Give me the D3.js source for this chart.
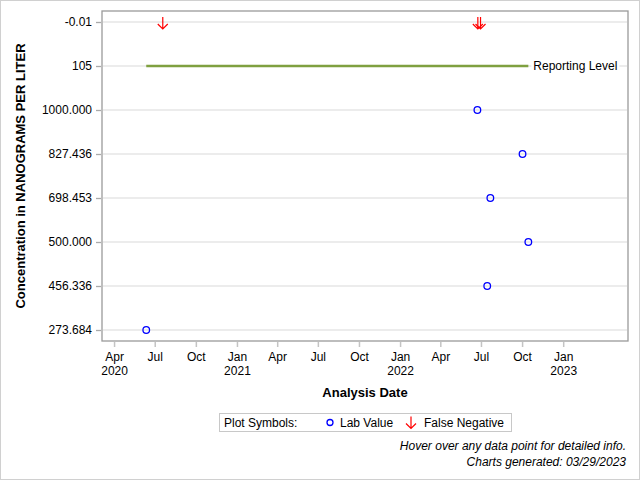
<!DOCTYPE html>
<html>
<head>
<meta charset="utf-8">
<script src="https://cdn.jsdelivr.net/npm/d3@7"></script>
<style>
html,body{margin:0;padding:0;background:#fff;}
svg{display:block;font-family:"Liberation Sans",Arial,sans-serif;}
</style>
</head>
<body>
<svg id="chart" width="640" height="480"></svg>
<script>
// ---- data ----
const yCategories = ["-0.01","105","1000.000","827.436","698.453","500.000","456.336","273.684"];
const labDates  = ["2020-06-12","2022-06-23","2022-10-02","2022-07-22","2022-10-15","2022-07-15"];
const labValues = ["273.684","1000.000","827.436","698.453","500.000","456.336"];
const fnDates  = ["2020-07-19","2022-06-24","2022-06-30"];
const fnValues = ["-0.01","-0.01","-0.01"];
const reportingLevel = "105";
const reportingLabel = "Reporting Level";
const xDomain = ["2020-03-05","2023-05-26"];
const xTickDates = ["2020-04-01","2020-07-01","2020-10-01","2021-01-01","2021-04-01","2021-07-01","2021-10-01","2022-01-01","2022-04-01","2022-07-01","2022-10-01","2023-01-01"];

const parse = d3.utcParse("%Y-%m-%d");
const svg = d3.select("#chart");

// outer border
svg.append("rect").attr("x",0.5).attr("y",0.5).attr("width",639).attr("height",479)
  .attr("fill","#fff").attr("stroke","#d0d0d0");

const L = 102, R = 628, T = 11, B = 341;

const x = d3.scaleUtc().domain(xDomain.map(parse)).range([L, R]);
const y = d3.scalePoint().domain(yCategories).range([T, B]).padding(0.25);

// gridlines
svg.append("g").selectAll("line").data(yCategories).join("line")
  .attr("x1", L+1).attr("x2", R-1)
  .attr("y1", d => y(d)).attr("y2", d => y(d))
  .attr("stroke", "#e6e6e6").attr("stroke-width", 1.3);

// reporting level line
const allDates = labDates.concat(fnDates).map(parse);
const ext = d3.extent(allDates);
svg.append("line")
  .attr("x1", x(ext[0])).attr("x2", x(ext[1]))
  .attr("y1", y(reportingLevel)).attr("y2", y(reportingLevel))
  .attr("stroke", "#7fa040").attr("stroke-width", 2.5);
const rlBg = svg.append("rect").attr("fill", "#fff");
const rlText = svg.append("text").attr("x", x(ext[1]) + 5).attr("y", y(reportingLevel) + 4)
  .attr("font-size", 12).attr("fill", "#000").text(reportingLabel);
const bb = rlText.node().getBBox();
rlBg.attr("x", bb.x - 2).attr("y", bb.y).attr("width", bb.width + 4).attr("height", bb.height);

// frame
svg.append("rect").attr("x", L).attr("y", T).attr("width", R-L).attr("height", B-T)
  .attr("fill", "none").attr("stroke", "#9a9a9a").attr("stroke-width", 1.3);

// y axis
const yAxis = d3.axisLeft(y).tickSize(5).tickPadding(4);
const gy = svg.append("g").attr("transform", `translate(${L-1},0)`).call(yAxis);
gy.select(".domain").remove();
gy.selectAll(".tick line").attr("stroke", "#aaaaaa").attr("stroke-width", 1.3);
gy.selectAll(".tick text").attr("font-size", 12).attr("fill", "#000")
  .attr("font-family", "Liberation Sans, Arial, sans-serif");

// x axis
const fmtMon = d3.utcFormat("%b");
const fmtYr = d3.utcFormat("%Y");
const xt = xTickDates.map(parse);
const xAxis = d3.axisBottom(x).tickValues(xt).tickSize(5).tickFormat("");
const gx = svg.append("g").attr("transform", `translate(0,${B+1})`).call(xAxis);
gx.select(".domain").remove();
gx.selectAll(".tick line").attr("stroke", "#c4c4c4").attr("stroke-width", 1.5);
gx.selectAll(".tick").each(function(d, i) {
  const g = d3.select(this);
  g.append("text").attr("y", 19).attr("text-anchor", "middle")
    .attr("font-size", 12).attr("fill", "#000").text(fmtMon(d));
  if (i === 0 || d.getUTCMonth() === 0) {
    g.append("text").attr("y", 33).attr("text-anchor", "middle")
      .attr("font-size", 12).attr("fill", "#000").text(fmtYr(d));
  }
});

// axis titles
svg.append("text").attr("x", (L+R)/2).attr("y", 397).attr("text-anchor", "middle")
  .attr("font-size", 13).attr("font-weight", "bold").text("Analysis Date");
svg.append("text").attr("transform", `translate(25,${(T+B)/2}) rotate(-90)`)
  .attr("text-anchor", "middle").attr("font-size", 13).attr("font-weight", "bold")
  .text("Concentration in NANOGRAMS PER LITER");

// lab value points
svg.append("g").selectAll("circle").data(labDates.map((d,i)=>({d:parse(d), v:labValues[i]}))).join("circle")
  .attr("cx", p => x(p.d)).attr("cy", p => y(p.v)).attr("r", 3.3)
  .attr("fill", "none").attr("stroke", "#0000ff").attr("stroke-width", 1.3);

// false negative arrows
function arrow(g, cx, cy) {
  g.append("path")
    .attr("d", `M${cx},${cy-6}L${cx},${cy+6}M${cx-5},${cy+1}L${cx},${cy+6}L${cx+5},${cy+1}`)
    .attr("fill", "none").attr("stroke", "#ff0000").attr("stroke-width", 1.2);
}
const ga = svg.append("g");
fnDates.forEach((d,i) => arrow(ga, x(parse(d)), y(fnValues[i]) + 1));

// legend
const lg = svg.append("g");
lg.append("rect").attr("x", 219.5).attr("y", 413.5).attr("width", 292).attr("height", 18)
  .attr("fill", "#fff").attr("stroke", "#c8c8c8");
lg.append("text").attr("x", 224).attr("y", 427).attr("font-size", 12).text("Plot Symbols:");
lg.append("circle").attr("cx", 330).attr("cy", 422.5).attr("r", 3)
  .attr("fill", "none").attr("stroke", "#0000ff").attr("stroke-width", 1.3);
lg.append("text").attr("x", 340).attr("y", 427).attr("font-size", 12).text("Lab Value");
arrow(lg, 411, 422.5);
lg.append("text").attr("x", 424).attr("y", 427).attr("font-size", 12).text("False Negative");

// footnotes
svg.append("text").attr("x", 626).attr("y", 450).attr("text-anchor", "end")
  .attr("font-size", 12).attr("font-style", "italic").text("Hover over any data point for detailed info.");
svg.append("text").attr("x", 626).attr("y", 466).attr("text-anchor", "end")
  .attr("font-size", 12).attr("font-style", "italic").text("Charts generated: 03/29/2023");
</script>
</body>
</html>
